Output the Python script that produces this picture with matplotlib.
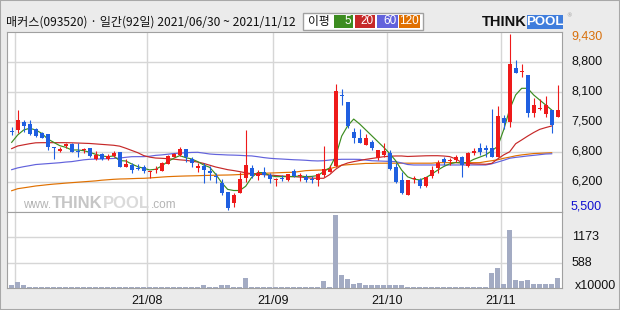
import matplotlib
matplotlib.use("Agg")
import matplotlib.pyplot as plt
from matplotlib.patches import Rectangle
from matplotlib import transforms
import numpy as np

# ---- data ----
title = "매커스(093520) · 일간(92일) 2021/06/30 ~ 2021/11/12"
ma_names = ["5", "20", "60", "120"]
ma_colors = ["#3c8c20", "#c62828", "#6262dc", "#e07000"]

opens = [7260, 7287, 7473, 7420, 7301, 7212, 7197, 6900, 6825, 6929,
         6974, 6825, 6840, 6877, 6632, 6743, 6632, 6706, 6803, 6468,
         6506, 6431, 6468, 6349, 6386, 6379, 6528, 6691, 6728, 6855,
         6639, 6438, 6483, 6371, 6260, 6096, 5910, 5650, 5888, 6208,
         6431, 6267, 6357, 6282, 6178, 6193, 6171, 6379, 6260, 6245,
         6178, 6171, 6282, 6357, 6484, 8052, 7919, 7250, 7116, 6952,
         7027, 6655, 6729, 6766, 6469, 6171, 5836, 6186, 6171, 6037,
         6260, 6431, 6630, 6590, 6610, 6692, 6483, 6766, 6878, 6893,
         6878, 6692, 7547, 7473, 8663, 8575, 8515, 7659, 7744, 7644,
         7733, 7585]
highs = [7360, 7733, 7510, 7510, 7324, 7249, 7197, 6900, 6915, 6989,
         6989, 7004, 6892, 6877, 6825, 6780, 6743, 6825, 6803, 6632,
         6543, 6528, 6506, 6379, 6483, 6580, 6728, 6780, 6900, 6855,
         6691, 6558, 6558, 6483, 6334, 6185, 5910, 5873, 6357, 7287,
         6506, 6394, 6454, 6320, 6208, 6282, 6305, 6409, 6320, 6305,
         6267, 6335, 6930, 6506, 8314, 8195, 7919, 7339, 7310, 7198,
         7064, 6841, 6990, 6840, 6543, 6357, 6171, 6260, 6208, 6245,
         6483, 6617, 6690, 6670, 6729, 6707, 6803, 6878, 6990, 6952,
         7756, 7823, 7622, 9430, 8849, 8760, 8515, 7994, 7971, 8046,
         7733, 8291]
lows = [7175, 7212, 7249, 7175, 7138, 7100, 6840, 6639, 6803, 6877,
        6803, 6691, 6780, 6691, 6617, 6617, 6617, 6691, 6453, 6453,
        6334, 6394, 6319, 6208, 6319, 6379, 6528, 6677, 6713, 6580,
        6468, 6357, 6111, 6171, 6111, 5836, 5500, 5576, 5888, 6134,
        6208, 6171, 6230, 6111, 6037, 6156, 6156, 6245, 6156, 6134,
        6111, 6037, 6245, 6357, 6469, 7845, 7324, 7004, 7004, 6952,
        6840, 6617, 6691, 6394, 6097, 5858, 5836, 6096, 5985, 6007,
        6208, 6320, 6500, 6500, 6570, 6230, 6469, 6729, 6729, 6677,
        6692, 6692, 7302, 7361, 8567, 8477, 7585, 7570, 7733, 7570,
        7212, 7585]
closes = [7249, 7510, 7376, 7197, 7153, 7115, 6915, 6877, 6863, 6974,
          6803, 6788, 6855, 6706, 6728, 6632, 6706, 6765, 6468, 6528,
          6394, 6420, 6379, 6364, 6394, 6558, 6706, 6743, 6855, 6691,
          6558, 6483, 6394, 6334, 6245, 5888, 5538, 5836, 6186, 6506,
          6260, 6320, 6282, 6193, 6186, 6186, 6305, 6267, 6267, 6171,
          6171, 6305, 6409, 6409, 8157, 8045, 7380, 7101, 7004, 7101,
          6878, 6841, 6826, 6409, 6133, 5873, 6171, 6208, 6044, 6230,
          6394, 6558, 6580, 6605, 6680, 6506, 6766, 6826, 6803, 6841,
          6692, 7599, 7451, 8760, 8567, 8582, 7659, 7845, 7752, 7845,
          7399, 7733]
volumes = [60, 145, 60, 25, 25, 25, 25, 25, 25, 25,
           25, 25, 25, 25, 25, 25, 25, 25, 25, 25,
           25, 25, 25, 25, 25, 25, 25, 25, 25, 25,
           25, 25, 60, 25, 25, 60, 60, 25, 25, 237,
           25, 25, 25, 25, 25, 25, 25, 25, 25, 25,
           25, 25, 161, 25, 1700, 300, 207, 92, 122, 60,
           60, 60, 60, 60, 60, 60, 25, 25, 25, 25,
           25, 25, 25, 25, 25, 25, 25, 25, 25, 25,
           352, 467, 92, 1334, 184, 161, 184, 92, 92, 92,
           92, 237]

nan = np.nan
ma5 = [7010, 7175, 7287, 7324, 7287, 7212, 7086, 7011, 6937, 6900,
       6840, 6840, 6825, 6788, 6743, 6706, 6691, 6706, 6602, 6595,
       6528, 6468, 6431, 6394, 6409, 6483, 6580, 6654, 6714, 6669,
       6639, 6580, 6505, 6453, 6300, 6110, 5960, 5935, 5935, 6030,
       6230, 6335, 6335, 6268, 6245, 6245, 6245, 6245, 6260, 6245,
       6250, 6268, 6357, 6440, 6700, 7150, 7380, 7530, 7420, 7290,
       7160, 7030, 6900, 6760, 6600, 6390, 6240, 6190, 6170, 6220,
       6300, 6390, 6470, 6530, 6560, 6550, 6560, 6630, 6680, 6730,
       6820, 6920, 7290, 7750, 8070, 8217, 8217, 8068, 7956, 7845,
       7733, nan]
ma20 = [6870, 6929, 6955, 6980, 7000, 7003, 7003, 7003, 7003, 7003,
        7000, 6995, 6990, 6985, 6975, 6965, 6955, 6945, 6925, 6880,
        6830, 6780, 6715, 6680, 6660, 6654, 6645, 6635, 6620, 6610,
        6590, 6570, 6540, 6500, 6460, 6430, 6400, 6380, 6357, 6330,
        6310, 6300, 6290, 6280, 6270, 6260, 6250, 6245, 6235, 6225,
        6210, 6208, 6208, 6290, 6410, 6500, 6550, 6580, 6605, 6630,
        6650, 6670, 6690, 6700, 6706, 6706, 6695, 6700, 6705, 6710,
        6712, 6712, 6705, 6692, 6640, 6560, 6540, 6530, 6525, 6521,
        6540, 6640, 6730, 6800, 6980, 7064, 7150, 7230, 7300, 7340,
        7376, nan]
ma60 = [6400, 6440, 6467, 6490, 6515, 6525, 6535, 6545, 6555, 6570,
        6580, 6600, 6620, 6632, 6636, 6640, 6645, 6650, 6660, 6676,
        6690, 6691, 6691, 6700, 6720, 6730, 6745, 6760, 6770, 6778,
        6785, 6788, 6770, 6750, 6740, 6735, 6728, 6725, 6720, 6712,
        6707, 6690, 6670, 6655, 6645, 6638, 6630, 6622, 6617, 6610,
        6600, 6595, 6600, 6615, 6625, 6632, 6632, 6632, 6630, 6615,
        6600, 6595, 6590, 6585, 6580, 6550, 6515, 6505, 6505, 6505,
        6505, 6505, 6505, 6505, 6505, 6505, 6505, 6505, 6505, 6505,
        6530, 6570, 6610, 6655, 6675, 6690, 6707, 6720, 6735, 6750,
        6755, nan]
ma120 = [5930, 5975, 5995, 6015, 6036, 6050, 6065, 6078, 6088, 6100,
         6110, 6120, 6130, 6140, 6150, 6165, 6175, 6185, 6192, 6195,
         6200, 6205, 6207, 6215, 6225, 6235, 6244, 6250, 6255, 6259,
         6262, 6265, 6270, 6273, 6276, 6279, 6281, 6285, 6292, 6300,
         6308, 6315, 6320, 6325, 6330, 6335, 6340, 6342, 6360, 6378,
         6385, 6390, 6394, 6420, 6460, 6500, 6510, 6520, 6530, 6540,
         6540, 6545, 6545, 6545, 6545, 6545, 6545, 6545, 6545, 6545,
         6545, 6557, 6557, 6557, 6557, 6557, 6557, 6557, 6557, 6580,
         6600, 6620, 6655, 6680, 6710, 6730, 6745, 6760, 6766, 6772,
         6778, nan]

month_idx = [1, 23, 44, 63, 82]
month_labels = ["", "21/08", "21/09", "21/10", "21/11"]
price_labels = ["6,200", "6,800", "7,500", "8,100", "8,800"]
vol_ticks = [588, 1173]
vol_labels = ["588", "1173"]
vol_unit = "x10000"

# ---- layout helpers (pixel -> figure fraction) ----
W, H = 620, 310
def fx(x):
    return x / W
def fy(y):
    return 1 - y / H

UP = "#ee1a1a"
DOWN = "#1f5fe0"
GRID = "#d6d6d6"
FRAME = "#a0a0a0"

fig = plt.figure(figsize=(6.2, 3.1), dpi=100, facecolor="#ebebeb")
ax = fig.add_axes([fx(7), fy(212), fx(562) - fx(7), fy(31.7) - fy(212)])
axv = fig.add_axes([fx(7), fy(288), fx(562) - fx(7), fy(212) - fy(288)])
rend = fig.canvas.get_renderer()

n = len(closes)
x = np.arange(n)
for a in (ax, axv):
    a.set_xlim(-0.78, 91.72)
    a.set_xticks([])
    a.set_yticks([])
    for s in a.spines.values():
        s.set_color(FRAME)
        s.set_linewidth(0.8)
    for m in month_idx:
        a.axvline(m - 0.5, color=GRID, lw=1, zorder=0)

lo, hi = 5455, 9481
ax.set_ylim(lo, hi)
grid_vals = [lo + k * (hi - lo) / 6 for k in range(1, 6)]
for g in grid_vals:
    ax.axhline(g, color=GRID, lw=1, zorder=0)

# watermark, pieces laid side by side
wm = [("www.", 8.5, "#b4b4b4", "normal", 205),
      ("THINK", 12, "#c6c6c6", "bold", 203),
      ("POOL", 12, "#dadada", "bold", 203),
      (".com", 8.5, "#b4b4b4", "normal", 205)]
xpos = 23
for txt, size, col, wt, ypix in wm:
    t = fig.text(fx(xpos), fy(ypix), txt, fontsize=size, color=col, fontweight=wt,
                 va="center", ha="left", family="Liberation Sans")
    xpos += t.get_window_extent(renderer=rend).width + 0.5

# moving averages
for ma, col in zip([ma120, ma60, ma20, ma5], ma_colors[::-1]):
    ax.plot(x, ma, color=col, lw=0.85, zorder=2)

# candles
o = np.array(opens); c = np.array(closes)
cols = [UP if cc > oo else DOWN for oo, cc in zip(o, c)]
ax.vlines(x, lows, highs, colors=cols, lw=0.8, zorder=3)
ax.bar(x, np.maximum(np.abs(c - o), 25), bottom=np.minimum(o, c), width=0.72,
       color=cols, lw=0, zorder=4)

# volume
axv.set_ylim(0, 1758)
for v in vol_ticks:
    axv.axhline(v, color=GRID, lw=1, zorder=0)
axv.bar(x, volumes, width=0.83, color="#a3abc3", lw=0, zorder=2)

# right labels
tp = transforms.blended_transform_factory(ax.transAxes, ax.transData)
lab_font = dict(fontsize=9, family="Liberation Sans", ha="left", va="center")
for g, lab in zip(grid_vals, price_labels):
    ax.text(1, g, lab, transform=transforms.offset_copy(tp, fig=fig, x=9, y=0, units="dots"),
            color="#111111", **lab_font)
ax.text(1, max(highs), "{:,}".format(max(highs)),
        transform=transforms.offset_copy(tp, fig=fig, x=9, y=-3, units="dots"),
        color="#d8700c", clip_on=False, **lab_font)
ax.text(1, min(lows), "{:,}".format(min(lows)),
        transform=transforms.offset_copy(tp, fig=fig, x=9, y=3, units="dots"),
        color="#1010d0", clip_on=False, **lab_font)

tv = transforms.blended_transform_factory(axv.transAxes, axv.transData)
for v, lab in zip(vol_ticks, vol_labels):
    axv.text(1, v, lab, transform=transforms.offset_copy(tv, fig=fig, x=10, y=0, units="dots"),
             color="#111111", **lab_font)
axv.text(1, 0, vol_unit, transform=transforms.offset_copy(tv, fig=fig, x=13, y=2, units="dots"),
         color="#111111", **lab_font)

# date labels
td = transforms.blended_transform_factory(axv.transData, axv.transAxes)
for m, lab in zip(month_idx, month_labels):
    axv.text(m - 0.5, 0, lab, transform=transforms.offset_copy(td, fig=fig, x=0, y=-13, units="dots"),
             ha="center", va="center", fontsize=9, family="Liberation Sans", color="#111111")

# header
fig.text(fx(6), fy(22), title, family=["Noto Sans CJK KR", "DejaVu Sans"], fontsize=8.7,
         va="center", ha="left", color="#111111")
fig.add_artist(Rectangle((fx(303), fy(30)), fx(423) - fx(303), fy(13.3) - fy(30),
                         transform=fig.transFigure, fc="white", ec=FRAME, lw=1))
fig.text(fx(319), fy(21.5), "이평", family=["Noto Sans CJK KR", "DejaVu Sans"], fontsize=8.5,
         ha="center", va="center", color="#111111")
boxes = [(334, 353), (355, 375), (377, 398), (399, 420)]
for (x0, x1), name, col in zip(boxes, ma_names, ma_colors):
    fig.add_artist(Rectangle((fx(x0), fy(28)), fx(x1) - fx(x0), fy(15) - fy(28),
                             transform=fig.transFigure, fc=col, ec="none"))
    fig.text(fx(x1 - 1.5), fy(21.5), name, color="white", fontsize=8.5, family="Liberation Sans",
             ha="right", va="center")

# logo
fig.text(fx(482), fy(22), "THINK", fontsize=10.5, fontweight="bold", family="Liberation Sans",
         color="#111111", va="center", ha="left")
fig.add_artist(Rectangle((fx(527), fy(28.5)), fx(563) - fx(527), fy(15) - fy(28.5),
                         transform=fig.transFigure, fc="#3f7ddc", ec="none"))
fig.text(fx(545), fy(21.8), "POOL", fontsize=9.5, fontweight="bold", family="Liberation Sans",
         color="white", va="center", ha="center")
fig.text(fx(566), fy(16), "®", fontsize=4, color="#999999", va="center")

fig.add_artist(Rectangle((0, 0), 1, 1, transform=fig.transFigure, fill=False, ec="#a8a8a8", lw=1.5))

fig.savefig("out.png", dpi=100, facecolor=fig.get_facecolor())
